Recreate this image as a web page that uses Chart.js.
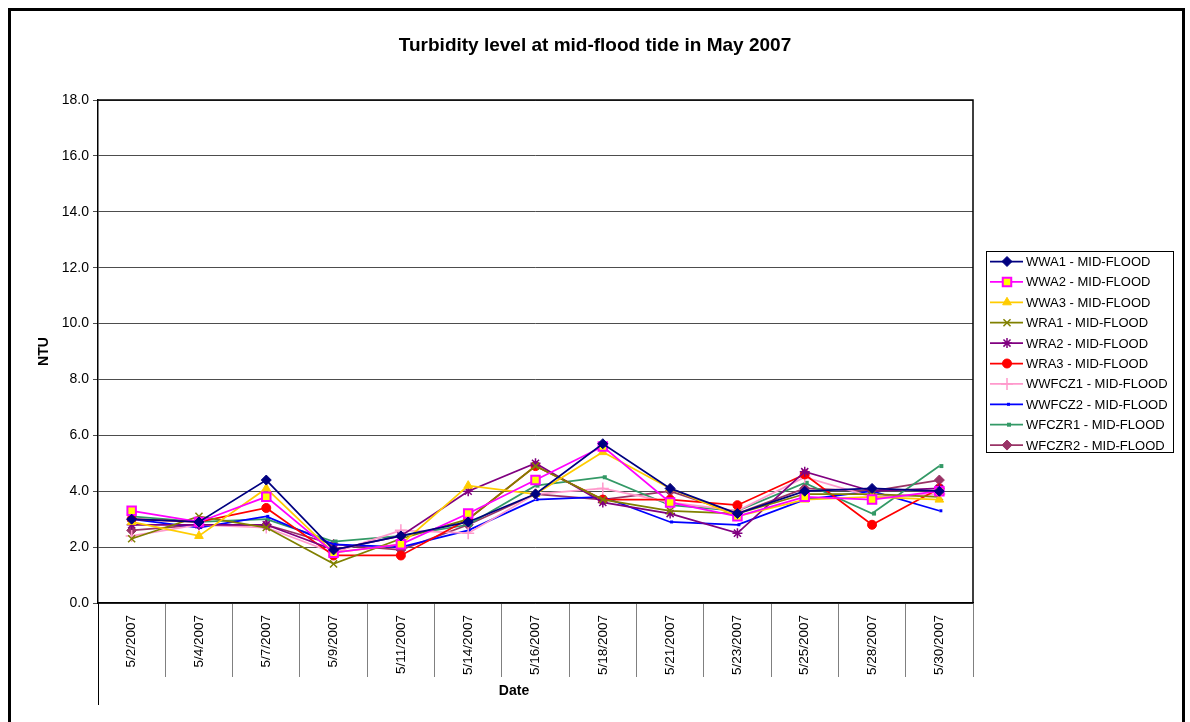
<!DOCTYPE html>
<html>
<head>
<meta charset="utf-8">
<script src="https://cdn.jsdelivr.net/npm/chart.js@4/dist/chart.umd.min.js"></script>
<style>
  html, body { margin: 0; padding: 0; background: #fff; }
  canvas { display: block; }
</style>
</head>
<body>
<canvas id="chart" width="1190" height="722"></canvas>
<script>
// Turbidity at mid-flood tide, May 2007
const dates = ['5/2/2007', '5/4/2007', '5/7/2007', '5/9/2007', '5/11/2007', '5/14/2007', '5/16/2007',
               '5/18/2007', '5/21/2007', '5/23/2007', '5/25/2007', '5/28/2007', '5/30/2007'];

const wwa1   = [3.0, 2.9, 4.4, 1.9, 2.4, 2.9, 3.9, 5.7, 4.1, 3.2, 4.0, 4.1, 4.0];
const wwa2   = [3.3, 2.9, 3.8, 1.8, 2.1, 3.2, 4.4, 5.6, 3.6, 3.1, 3.8, 3.7, 4.0];
const wwa3   = [2.9, 2.4, 4.1, 1.8, 2.1, 4.2, 3.9, 5.4, 4.1, 3.1, 3.7, 3.8, 3.7];
const wra1   = [2.3, 3.1, 2.7, 1.4, 2.3, 3.0, 4.9, 3.7, 3.3, 3.2, 3.9, 3.9, 3.8];
const wra2   = [2.8, 2.8, 2.8, 1.9, 2.4, 4.0, 5.0, 3.6, 3.2, 2.5, 4.7, 4.0, 4.1];
const wra3   = [3.0, 2.9, 3.4, 1.7, 1.7, 3.0, 4.9, 3.7, 3.7, 3.5, 4.6, 2.8, 4.1];
const wwfcz1 = [2.4, 2.8, 2.7, 1.8, 2.6, 2.5, 3.9, 4.1, 3.6, 3.3, 4.5, 3.8, 3.9];
const wwfcz2 = [3.0, 2.7, 3.1, 2.1, 2.0, 2.6, 3.7, 3.8, 2.9, 2.8, 3.7, 4.0, 3.3];
const wfczr1 = [3.1, 2.9, 3.0, 2.2, 2.4, 2.8, 4.2, 4.5, 3.5, 3.3, 4.3, 3.2, 4.9];
const wfczr2 = [2.6, 2.8, 2.8, 2.1, 1.9, 2.8, 3.9, 3.7, 4.0, 3.2, 4.1, 4.0, 4.4];

const seriesNames = ['WWA1 - MID-FLOOD', 'WWA2 - MID-FLOOD', 'WWA3 - MID-FLOOD', 'WRA1 - MID-FLOOD',
                     'WRA2 - MID-FLOOD', 'WRA3 - MID-FLOOD', 'WWFCZ1 - MID-FLOOD', 'WWFCZ2 - MID-FLOOD',
                     'WFCZR1 - MID-FLOOD', 'WFCZR2 - MID-FLOOD'];
const seriesData = [wwa1, wwa2, wwa3, wra1, wra2, wra3, wwfcz1, wwfcz2, wfczr1, wfczr2];

const yTicks = [0, 2, 4, 6, 8, 10, 12, 14, 16, 18];

// look of each series: line colour, marker shape, marker fill
const styles = [
    { color: '#000080', fill: '#000080', shape: 'rectRot',  r: 5,   bw: 1 },
    { color: '#FF00FF', fill: '#FFFF00', shape: 'rect',     r: 6,   bw: 2 },
    { color: '#FFCC00', fill: '#FFCC00', shape: 'triangle', r: 5,   bw: 1 },
    { color: '#808000', fill: '#808000', shape: 'crossRot', r: 5,   bw: 1.5 },
    { color: '#800080', fill: '#800080', shape: 'star',     r: 5,   bw: 1.5 },
    { color: '#FF0000', fill: '#FF0000', shape: 'circle',   r: 4.5, bw: 1 },
    { color: '#FF99CC', fill: '#FF99CC', shape: 'cross',    r: 6,   bw: 1.5 },
    { color: '#0000FF', fill: '#0000FF', shape: 'dash',     r: 3,   bw: 3 },
    { color: '#339966', fill: '#339966', shape: 'dash',     r: 4,   bw: 4 },
    { color: '#993366', fill: '#993366', shape: 'rectRot',  r: 5,   bw: 1 }
];

const FONT = 'Arial, "Liberation Sans", sans-serif';

const datasets = seriesData.map((data, i) => ({
    label: seriesNames[i],
    data: data,
    borderColor: styles[i].color,
    backgroundColor: styles[i].fill,
    borderWidth: 1.75,
    pointStyle: styles[i].shape,
    pointRadius: styles[i].r,
    pointHoverRadius: styles[i].r,
    pointBackgroundColor: styles[i].fill,
    pointBorderColor: styles[i].color,
    pointBorderWidth: styles[i].bw,
    tension: 0,
    fill: false
}));

function drawMarker(ctx, s, x, y) {
    ctx.save();
    ctx.fillStyle = s.fill;
    ctx.strokeStyle = s.color;
    ctx.lineWidth = s.bw;
    if (Chart.helpers && Chart.helpers.drawPoint) {
        Chart.helpers.drawPoint(ctx, { pointStyle: s.shape, radius: s.r, borderWidth: s.bw, rotation: 0 }, x, y);
    } else {
        ctx.beginPath();
        ctx.arc(x, y, s.r, 0, Math.PI * 2);
        ctx.fill();
    }
    ctx.restore();
}

const decor = {
    id: 'decor',
    afterDraw(chart) {
        const ctx = chart.ctx;
        const a = chart.chartArea;
        ctx.save();

        // outer chart border (bottom edge runs past the picture)
        ctx.strokeStyle = '#000';
        ctx.lineWidth = 3;
        ctx.beginPath();
        ctx.moveTo(9.5, 730);
        ctx.lineTo(9.5, 9.5);
        ctx.lineTo(1183.5, 9.5);
        ctx.lineTo(1183.5, 730);
        ctx.stroke();

        // plot area top and right edges
        ctx.lineWidth = 1.5;
        ctx.beginPath();
        ctx.moveTo(a.left, a.top);
        ctx.lineTo(a.right, a.top);
        ctx.lineTo(a.right, a.bottom);
        ctx.stroke();

        // left axis runs down through the label band
        ctx.lineWidth = 1;
        ctx.beginPath();
        ctx.moveTo(a.left + 0.5, a.bottom);
        ctx.lineTo(a.left + 0.5, 705);
        ctx.stroke();

        // chart title
        ctx.fillStyle = '#000';
        ctx.textAlign = 'center';
        ctx.textBaseline = 'middle';
        ctx.font = 'bold 19px ' + FONT;
        ctx.fillText('Turbidity level at mid-flood tide in May 2007', 595, 46);

        // x axis title
        ctx.font = 'bold 14px ' + FONT;
        ctx.fillText('Date', 514, 691);

        // legend
        const lx = 986, ly = 251, lw = 187, lh = 201;
        ctx.fillStyle = '#fff';
        ctx.fillRect(lx, ly, lw, lh);
        ctx.strokeStyle = '#000';
        ctx.lineWidth = 1;
        ctx.strokeRect(lx + 0.5, ly + 0.5, lw, lh);
        ctx.font = '13px ' + FONT;
        ctx.textAlign = 'left';
        seriesNames.forEach((name, i) => {
            const y = ly + 10.5 + i * 20.4;
            ctx.strokeStyle = styles[i].color;
            ctx.lineWidth = 1.75;
            ctx.beginPath();
            ctx.moveTo(990, y);
            ctx.lineTo(1023, y);
            ctx.stroke();
            drawMarker(ctx, styles[i], 1007, y);
            ctx.fillStyle = '#000';
            ctx.fillText(name, 1026, y + 1);
        });

        ctx.restore();
    }
};

new Chart(document.getElementById('chart').getContext('2d'), {
    type: 'line',
    data: { labels: dates, datasets: datasets },
    options: {
        responsive: false,
        animation: false,
        devicePixelRatio: 1,
        layout: { padding: { left: 30, top: 100, right: 217, bottom: 0 } },
        plugins: {
            legend: { display: false },
            title: { display: false },
            tooltip: { enabled: false }
        },
        scales: {
            x: {
                type: 'category',
                offset: true,
                grid: {
                    offset: true,
                    drawOnChartArea: false,
                    drawTicks: true,
                    tickLength: 74,
                    color: '#808080',
                    lineWidth: 1
                },
                border: { display: true, color: '#000', width: 1.5 },
                ticks: {
                    autoSkip: false,
                    maxRotation: 90,
                    minRotation: 90,
                    padding: -62,
                    color: '#000',
                    font: { family: FONT, size: 13.5 }
                },
                afterFit(s) { s.height = 119; }
            },
            y: {
                min: 0,
                max: 18,
                afterBuildTicks(s) { s.ticks = yTicks.map(v => ({ value: v })); },
                ticks: {
                    padding: 4,
                    color: '#000',
                    font: { family: FONT, size: 14 },
                    callback: v => v.toFixed(1)
                },
                grid: {
                    color: '#4d4d4d',
                    lineWidth: 1,
                    tickLength: 5,
                    drawTicks: true
                },
                border: { display: true, color: '#000', width: 1.5 },
                title: {
                    display: true,
                    text: 'NTU',
                    color: '#000',
                    font: { family: FONT, size: 14, weight: 'bold' },
                    padding: { top: 6, bottom: 0 }
                },
                afterFit(s) { s.width = 68; }
            }
        }
    },
    plugins: [decor]
});
</script>
</body>
</html>
